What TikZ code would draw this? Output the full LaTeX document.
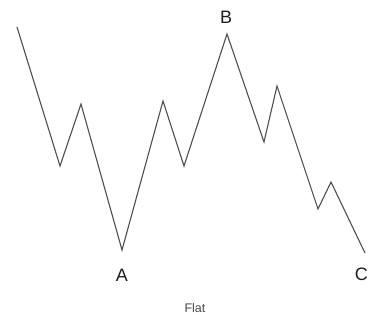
\documentclass[tikz,border=0pt]{standalone}
\usepackage{fontspec}
\setmainfont{Liberation Sans}
\usetikzlibrary{positioning}
\definecolor{wave}{RGB}{78,78,78}
\definecolor{ink}{RGB}{30,30,30}
\tikzset{
  leg/.style={draw=wave,line width=1.1pt,line join=miter},
  pivot/.style={font=\fontsize{18}{18}\selectfont,text=ink,inner sep=0pt},
  caption/.style={font=\fontsize{12.5}{13}\selectfont,text=ink!80,inner sep=0pt},
}
\begin{document}
\begin{tikzpicture}[x=1pt,y=-1pt]
  \useasboundingbox (0,0) rectangle (369,322);
  % turning points of the wave
  \coordinate (w0) at (17,27);
  \coordinate (w1) at (60,166);
  \coordinate (w2) at (81,104);
  \coordinate (ptA) at (122,250);
  \coordinate (w4) at (163,101);
  \coordinate (w5) at (184,166);
  \coordinate (ptB) at (227,34);
  \coordinate (w7) at (264,142);
  \coordinate (w8) at (277,86);
  \coordinate (w9) at (318,209);
  \coordinate (w10) at (331,182);
  \coordinate (ptC) at (365,253);
  \draw[leg] (w0) -- (w1) -- (w2) -- (ptA) -- (w4) -- (w5) -- (ptB)
    -- (w7) -- (w8) -- (w9) -- (w10) -- (ptC);
  % labels
  \node[pivot] (lA) at (122,275) {A};
  \node[pivot] (lB) at (226,17) {B};
  \node[pivot,anchor=east] (lC) at (368,274) {C};
  \node[caption] (flat) at (195,308) {Flat};
\end{tikzpicture}
\end{document}
